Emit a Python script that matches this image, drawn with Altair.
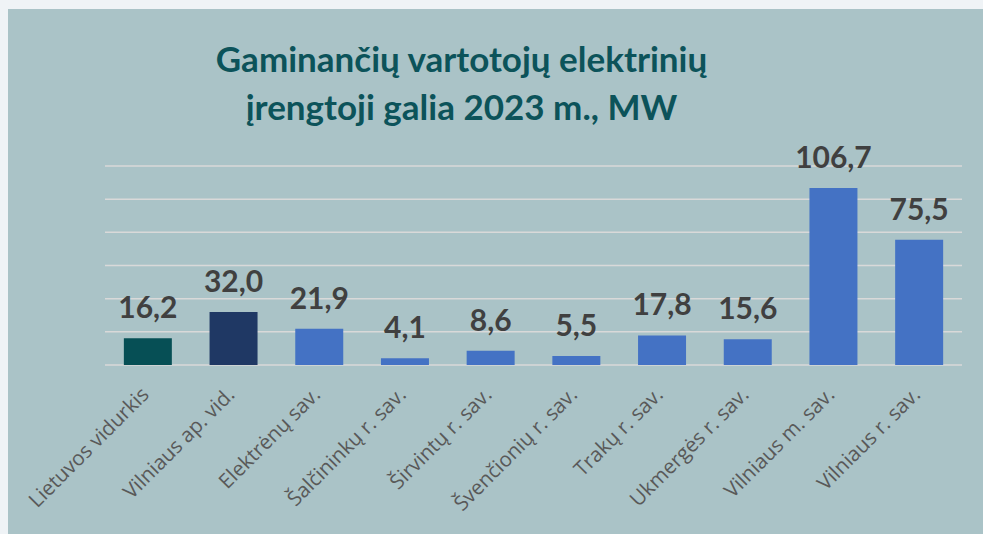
import altair as alt
import pandas as pd

categories = ["Lietuvos vidurkis", "Vilniaus ap. vid.", "Elektrėnų sav.", "Šalčininkų r. sav.",
              "Širvintų r. sav.", "Švenčionių r. sav.", "Trakų r. sav.", "Ukmergės r. sav.",
              "Vilniaus m. sav.", "Vilniaus r. sav."]
values = [16.2, 32.0, 21.9, 4.1, 8.6, 5.5, 17.8, 15.6, 106.7, 75.5]
colors = ["#064f55", "#1f3864"] + ["#4472c4"] * 8
grid_values = [0, 20, 40, 60, 80, 100, 120]
title_lines = ["Gaminančių vartotojų elektrinių", "įrengtoji galia 2023 m., MW"]

df = pd.DataFrame({"cat": categories, "v": values, "c": colors})
gdf = pd.DataFrame({"g": grid_values})

W, H = 857, 199
PL, PT, PR, PB = 105, 166, 21, 169

x = alt.X("cat:N", sort=categories, title=None,
          scale=alt.Scale(paddingInner=0.44, paddingOuter=0.22),
          axis=alt.Axis(labelAngle=-45, labelFont="Open Sans", labelFontSize=20.5,
                        labelColor="#595959", ticks=False, domain=False, labelPadding=19,
                        labelOffset=-9, zindex=1))
y = alt.Y("v:Q", scale=alt.Scale(domain=[0, 120], nice=False), title=None, axis=None)

panel = alt.Chart(alt.Data(values=[{}])).mark_rect(color="#aac3c7").encode(
    x=alt.value(8 - PL), x2=alt.value(W + PR), y=alt.value(9 - PT), y2=alt.value(H + PB))

grid = alt.Chart(gdf).mark_rule(color="#d9d9d9", strokeWidth=1.5).encode(
    y=alt.Y("g:Q", scale=alt.Scale(domain=[0, 120], nice=False), axis=None),
    x=alt.value(0), x2=alt.value(W))

bars = alt.Chart(df).mark_bar().encode(x=x, y=y, color=alt.Color("c:N", scale=None))

labels = alt.Chart(df).transform_calculate(
    lab="replace(format(datum.v, '.1f'), '.', ',')"
).mark_text(font="Lato", fontWeight="bold", fontSize=30, color="#404040",
            baseline="alphabetic", dy=-20).encode(x=x, y=y, text="lab:N")

chart = alt.layer(panel, grid, bars, labels).properties(
    width=W, height=H,
    title=alt.TitleParams(text=title_lines, font="Lato", fontSize=35, fontWeight="bold",
                          color="#0c535a", lineHeight=48, anchor="middle", dx=-72, offset=-118,
                          frame="group", zindex=1),
    autosize=alt.AutoSizeParams(type="none"),
    padding={"left": PL, "top": PT, "right": PR, "bottom": PB},
).configure(background="#eff3f6").configure_view(stroke=None)

chart.save("out.html", embed_options={"renderer": "svg", "actions": False})
